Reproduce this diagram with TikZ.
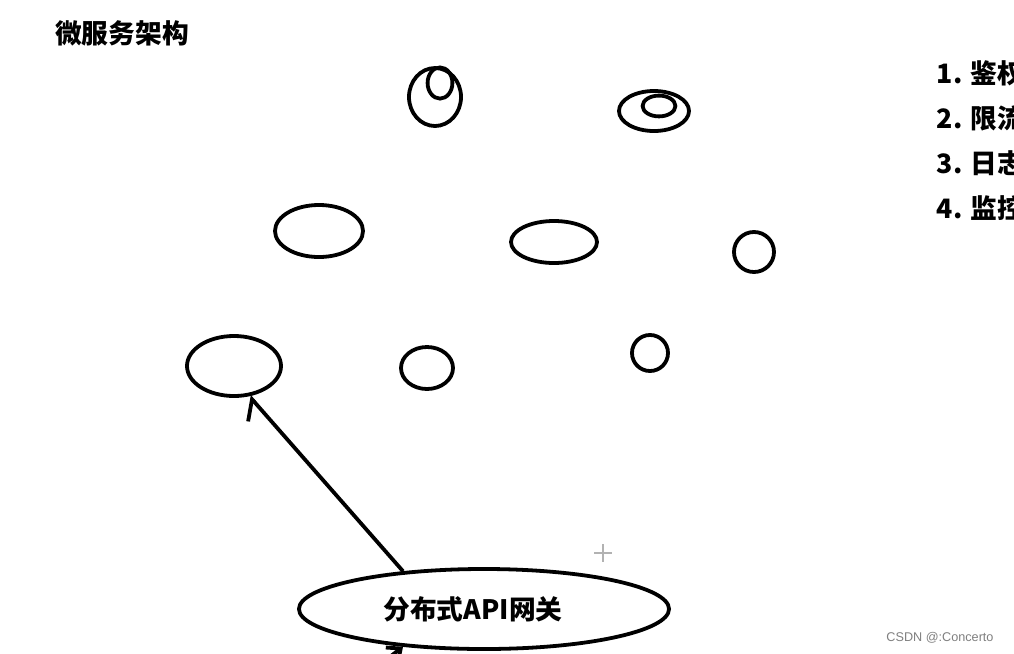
\documentclass[tikz,border=0pt]{standalone}
\usepackage{fontspec}
\newfontfamily\cjk{Noto Sans CJK SC}
\newfontfamily\wmark{Liberation Sans}
\usetikzlibrary{arrows.meta}
\usetikzlibrary{shapes.geometric}
\usetikzlibrary{positioning}

\begin{document}
\begin{tikzpicture}[x=0.025cm,y=-0.025cm,
	blob/.style={draw, ellipse, line width=2.7pt, inner sep=0pt},
	zh/.style={font=\cjk\bfseries\fontsize{19pt}{22pt}\selectfont},
	hand/.style={line width=2.7pt, -{Straight Barb[harpoon, length=10pt, width=25pt]}}]
	
	\clip (0,0) rectangle (1014,653);
	\fill[white] (0,0) rectangle (1014,653);
	
	% title
	\node[zh] (title) at (122,33) {微服务架构};
	
	% services, first row
	\node[blob, minimum width=1.3cm, minimum height=1.45cm] (svcA) at (435,97) {};
	\node[blob, minimum width=0.62cm, minimum height=0.78cm] (svcAin) at (440,83) {};
	\node[blob, minimum width=1.75cm, minimum height=1.0cm] (svcB) at (654,111) {};
	\node[blob, minimum width=0.82cm, minimum height=0.52cm] (svcBin) at (659,106) {};
	
	% second row
	\node[blob, minimum width=2.2cm, minimum height=1.3cm] (svcC) at (319,231) {};
	\node[blob, minimum width=2.15cm, minimum height=1.05cm] (svcD) at (554,242) {};
	\node[blob, minimum width=1.0cm, minimum height=1.0cm] (svcE) at (754,252) {};
	
	% third row
	\node[blob, minimum width=2.35cm, minimum height=1.5cm] (svcF) at (234,366) {};
	\node[blob, minimum width=1.3cm, minimum height=1.05cm] (svcG) at (427,368) {};
	\node[blob, minimum width=0.9cm, minimum height=0.9cm] (svcH) at (650,353) {};
	
	% gateway
	\node[blob, minimum width=9.25cm, minimum height=2.0cm] (gateway) at (484,609) {};
	\node[zh] (gwtext) at (473,609) {分布式API网关};
	
	\coordinate (client) at (370,672);
	\draw[hand] (gateway.155) -- (svcF.-63);
	\draw[line width=2.7pt, -{Straight Barb[length=8pt, width=14pt]}] (client) -- (gateway.205);
	
	% list on the right
	\node[zh, anchor=west] (item1) at (932,73) {1. 鉴权};
	\node[zh, anchor=west] (item2) at (932,118) {2. 限流};
	\node[zh, anchor=west] (item3) at (932,163) {3. 日志};
	\node[zh, anchor=west] (item4) at (932,208) {4. 监控};
	
	% cursor
	\draw[gray!60, line width=1pt] (594,553) -- (612,553) (603,544) -- (603,562);
	
	\node[gray, font=\wmark\fontsize{9pt}{11pt}\selectfont] (credit) at (940,638) {CSDN @:Concerto};
\end{tikzpicture}
\end{document}
